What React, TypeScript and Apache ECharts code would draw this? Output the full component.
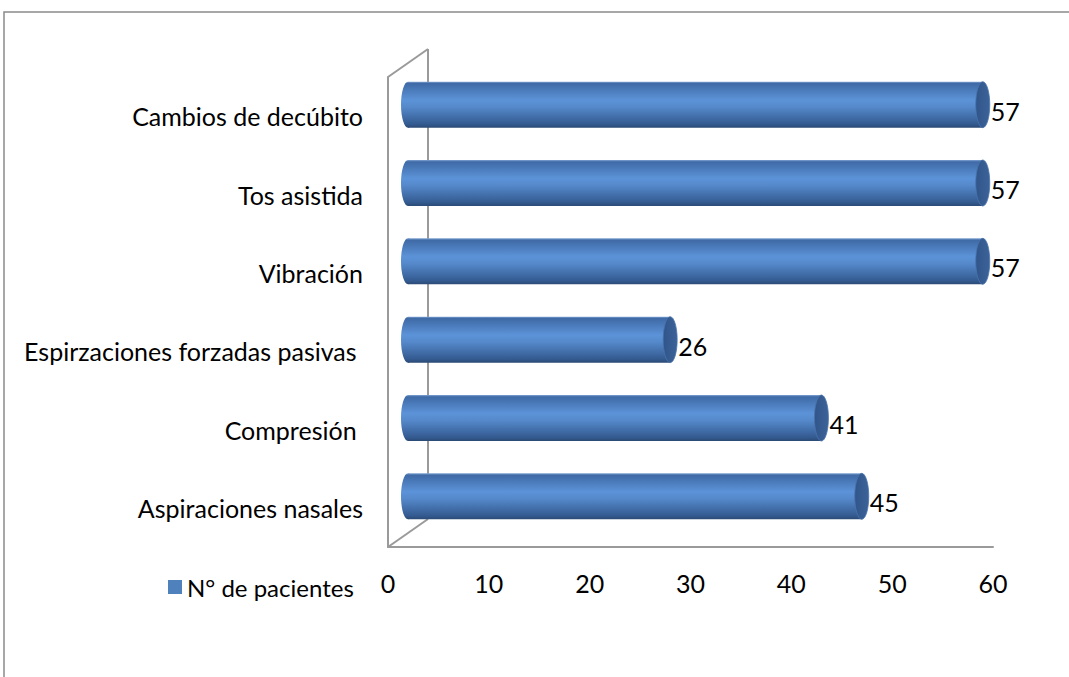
import React, { useEffect, useRef } from "react";
import * as echarts from "echarts";

const categories = [
  "Cambios de decúbito",
  "Tos asistida",
  "Vibración",
  "Espirzaciones forzadas pasivas ",
  "Compresión ",
  "Aspiraciones nasales",
];
const values = [57, 57, 57, 26, 41, 45];
const seriesName = "N° de pacientes";
const axisMin = 0;
const axisMax = 60;
const axisInterval = 10;

const FONT = "Lato";
const FS = 25;

export default function App() {
  const ref = useRef<HTMLDivElement>(null);
  useEffect(() => {
    if (!ref.current) return;
    const chart = echarts.init(ref.current, undefined, { renderer: "svg" });
    const gridLeft = 388;
    const gridTop = 77;
    const gridRight = 76;
    const gridBottom = 130;
    const H = 677;
    const gy1 = H - gridBottom;
    const depthX = 40;
    const depthY = -28;
    const barDx = 20;
    const barDy = -11.5;
    const barH = 46;
    const capRx = 7;
    const lineStyle = { stroke: "#9a9a9a", lineWidth: 2 };

    const bodyGrad = new echarts.graphic.LinearGradient(0, 0, 0, 1, [
      { offset: 0, color: "#7fa3d3" },
      { offset: 0.04, color: "#3f6aa6" },
      { offset: 0.4, color: "#5c93d8" },
      { offset: 0.55, color: "#5589cb" },
      { offset: 0.92, color: "#345b91" },
      { offset: 1, color: "#2b4a75" },
    ]);
    const capGrad = new echarts.graphic.LinearGradient(0, 0, 1, 0, [
      { offset: 0, color: "#30558a" },
      { offset: 1, color: "#3c6399" },
    ]);

    chart.setOption({
      animation: false,
      backgroundColor: "#ffffff",
      textStyle: { fontFamily: FONT },
      grid: { left: gridLeft, top: gridTop, right: gridRight, bottom: gridBottom, containLabel: false },
      legend: {
        left: 163,
        top: 570,
        itemWidth: 14,
        itemHeight: 14,
        itemGap: 6,
        icon: "rect",
        textStyle: { fontSize: 24, color: "#000", fontFamily: FONT },
        data: [{ name: seriesName, itemStyle: { color: "#4f81bd" } }],
      },
      xAxis: {
        type: "value",
        min: axisMin,
        max: axisMax,
        interval: axisInterval,
        axisLine: { show: true, lineStyle: { color: "#9a9a9a", width: 2 } },
        axisTick: { show: false },
        splitLine: { show: false },
        axisLabel: { margin: 23, fontSize: FS, color: "#000", fontFamily: FONT },
      },
      yAxis: {
        type: "category",
        inverse: true,
        data: categories,
        axisLine: { show: true, lineStyle: { color: "#9a9a9a", width: 2 } },
        axisTick: { show: false },
        axisLabel: { margin: 25, fontSize: FS, color: "#000", fontFamily: FONT, padding: [12, 0, 0, 0] },
      },
      graphic: [
        {
          type: "rect",
          shape: { x: 4, y: 12, width: 1200, height: 800 },
          style: { fill: "none", stroke: "#8a8a8a", lineWidth: 1.5 },
          silent: true,
          z: 0,
        },
        {
          type: "line",
          shape: { x1: gridLeft, y1: gridTop, x2: gridLeft + depthX, y2: gridTop + depthY },
          style: lineStyle,
          z: 0,
        },
        {
          type: "line",
          shape: { x1: gridLeft + depthX, y1: gridTop + depthY, x2: gridLeft + depthX, y2: gy1 + depthY },
          style: lineStyle,
          z: 0,
        },
        {
          type: "line",
          shape: { x1: gridLeft, y1: gy1, x2: gridLeft + depthX, y2: gy1 + depthY },
          style: lineStyle,
          z: 0,
        },
      ],
      series: [
        {
          name: seriesName,
          type: "custom",
          z: 5,
          itemStyle: { color: "#4f81bd" },
          encode: { x: 0, y: 1 },
          data: values.map((v, i) => [v, i]),
          renderItem: (params: any, api: any) => {
            const v = api.value(0);
            const idx = api.value(1);
            const p0 = api.coord([0, idx]);
            const p1 = api.coord([v, idx]);
            const x0 = p0[0] + barDx;
            const x1 = p1[0] + barDx;
            const cy = p0[1] + barDy;
            return {
              type: "group",
              children: [
                {
                  type: "ellipse",
                  shape: { cx: x0, cy, rx: capRx, ry: barH / 2 },
                  style: { fill: bodyGrad },
                },
                {
                  type: "rect",
                  shape: { x: x0, y: cy - barH / 2, width: x1 - x0, height: barH },
                  style: { fill: bodyGrad },
                },
                {
                  type: "ellipse",
                  shape: { cx: x1, cy, rx: capRx, ry: barH / 2 },
                  style: { fill: capGrad, stroke: "#4a74ad", lineWidth: 0.8 },
                },
                {
                  type: "text",
                  style: {
                    text: String(v),
                    x: x1 + capRx + 1,
                    y: cy + 6,
                    align: "left",
                    verticalAlign: "middle",
                    fontSize: FS,
                    fontFamily: FONT,
                    fill: "#000",
                  },
                },
              ],
            };
          },
        },
      ],
    });
    return () => chart.dispose();
  }, []);
  return (
    <div
      ref={ref}
      style={{ position: "fixed", left: 0, top: 0, width: 1069, height: 677, background: "#fff" }}
    />
  );
}
